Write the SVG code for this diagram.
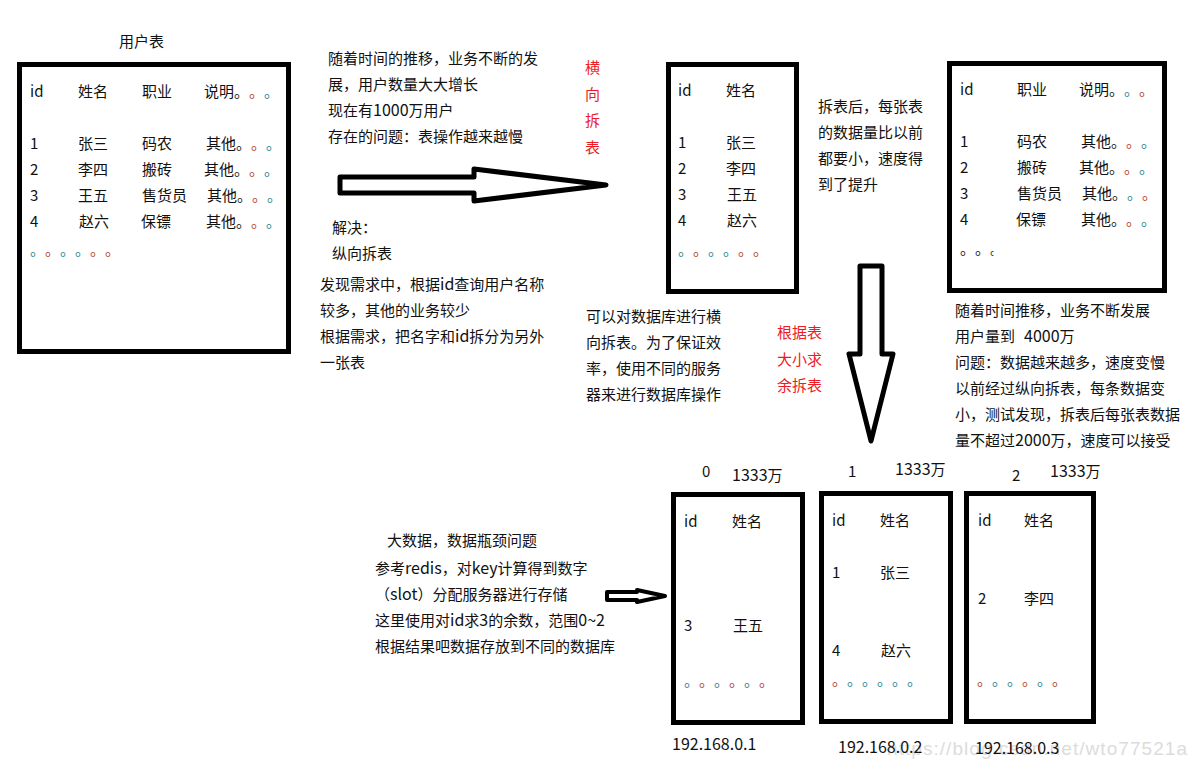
<svg xmlns="http://www.w3.org/2000/svg" width="1196" height="769" viewBox="0 0 1196 769">
<style>
text{font-family:"Noto Sans CJK SC","Noto Sans",sans-serif;font-size:15px;fill:#111;text-spacing-trim:space-all;font-feature-settings:"palt" 0}
.r{fill:#ed1c24}
.n{font-size:16px}
.t{fill:#1f7f8f}
.o{fill:#b33a2a}
.box{fill:#fff;stroke:#000;stroke-width:5}
.arrow{fill:#fff;stroke:#000;stroke-width:5;stroke-linejoin:round}
.wm{fill:#dcdcdc;font-size:19px;font-family:"Liberation Sans",sans-serif}
</style>
<defs><clipPath id="cut"><rect x="960" y="240" width="33.5" height="20"/></clipPath></defs>
<rect width="1196" height="769" fill="#fff"/>
<g id="connectors">
<polygon class="arrow" points="340,177 474,177 474,169 606,185 474,201 474,193 340,193"/>
<polygon class="arrow" points="860,266 882,266 882,354 893,354 871,441 849,354 860,354"/>
<polygon class="arrow" style="stroke-width:4" points="607,592 637,592 637,590 665,596 637,602 637,600 607,600"/>
</g>
<g id="title"><text x="119" y="47">用户表</text></g>
<g id="users-table">
<rect class="box" x="19.5" y="64.5" width="269" height="287"/>
<text x="30" y="97">id</text><text x="78" y="97">姓名</text><text x="142" y="97">职业</text><text x="204" y="97">说明。<tspan class="o">。</tspan><tspan class="t">。</tspan></text>
<text x="30" y="149">1</text><text x="78" y="149">张三</text><text x="142" y="149">码农</text><text x="206" y="149">其他。<tspan class="o">。</tspan><tspan class="t">。</tspan></text>
<text x="30" y="175">2</text><text x="78" y="175">李四</text><text x="142" y="175">搬砖</text><text x="204" y="175">其他。<tspan class="o">。</tspan><tspan class="t">。</tspan></text>
<text x="30" y="201">3</text><text x="78" y="201">王五</text><text x="142" y="201">售货员</text><text x="207" y="201">其他。<tspan class="o">。</tspan><tspan class="t">。</tspan></text>
<text x="30" y="227">4</text><text x="79" y="227">赵六</text><text x="141" y="227">保镖</text><text x="206" y="227">其他。<tspan class="o">。</tspan><tspan class="t">。</tspan></text>
<text x="30" y="255"><tspan class="t">。</tspan><tspan class="o">。</tspan><tspan class="t">。。</tspan><tspan class="o">。。</tspan></text>
</g>
<g id="note-growth">
<text x="328" y="64">随着时间的推移，业务不断的发</text>
<text x="328" y="90">展，用户数量大大增长</text>
<text x="328" y="116">现在有<tspan class="n">1000</tspan>万用户</text>
<text x="328" y="142">存在的问题：表操作越来越慢</text>
</g>
<g id="note-solution">
<text x="332" y="233">解决：</text>
<text x="332" y="259">纵向拆表</text>
<text x="320" y="290">发现需求中，根据<tspan class="n">id</tspan>查询用户名称</text>
<text x="320" y="316">较多，其他的业务较少</text>
<text x="320" y="342">根据需求，把名字和<tspan class="n">id</tspan>拆分为另外</text>
<text x="320" y="368">一张表</text>
</g>
<g id="label-horizontal">
<text class="r" x="585" y="73">横</text><text class="r" x="585" y="100">向</text><text class="r" x="585" y="126">拆</text><text class="r" x="585" y="153">表</text>
</g>
<g id="name-table">
<rect class="box" x="668.5" y="64.5" width="128" height="227"/>
<text x="678" y="96">id</text><text x="726" y="96">姓名</text>
<text x="678" y="148">1</text><text x="726" y="148">张三</text>
<text x="678" y="174">2</text><text x="726" y="174">李四</text>
<text x="678" y="200">3</text><text x="727" y="200">王五</text>
<text x="678" y="226">4</text><text x="727" y="226">赵六</text>
<text x="678" y="255"><tspan class="t">。</tspan><tspan class="o">。</tspan><tspan class="t">。。</tspan><tspan class="o">。。</tspan></text>
</g>
<g id="note-after-split">
<text x="818" y="112">拆表后，每张表</text>
<text x="818" y="138">的数据量比以前</text>
<text x="818" y="164">都要小，速度得</text>
<text x="818" y="190">到了提升</text>
</g>
<g id="job-table">
<rect class="box" x="949.5" y="63.5" width="215" height="227"/>
<text x="960" y="95">id</text><text x="1017" y="95">职业</text><text x="1079" y="95">说明。<tspan class="t">。</tspan><tspan class="o">。</tspan></text>
<text x="960" y="147">1</text><text x="1017" y="147">码农</text><text x="1081" y="147">其他。<tspan class="o">。</tspan><tspan class="t">。</tspan></text>
<text x="960" y="173">2</text><text x="1017" y="173">搬砖</text><text x="1079" y="173">其他。<tspan class="o">。</tspan><tspan class="t">。</tspan></text>
<text x="960" y="199">3</text><text x="1017" y="199">售货员</text><text x="1082" y="199">其他。<tspan class="t">。</tspan><tspan class="o">。</tspan></text>
<text x="960" y="225">4</text><text x="1016" y="225">保镖</text><text x="1081" y="225">其他。<tspan class="o">。</tspan><tspan class="t">。</tspan></text>
<text x="960" y="254" clip-path="url(#cut)">。。。</text>
</g>
<g id="note-horizontal">
<text x="586" y="322">可以对数据库进行横</text>
<text x="586" y="348">向拆表。为了保证效</text>
<text x="586" y="374">率，使用不同的服务</text>
<text x="586" y="400">器来进行数据库操作</text>
</g>
<g id="label-mod">
<text class="r" x="777" y="338">根据表</text>
<text class="r" x="777" y="365">大小求</text>
<text class="r" x="777" y="391">余拆表</text>
</g>
<g id="note-growth-2">
<text x="955" y="316">随着时间推移，业务不断发展</text>
<text x="955" y="342">用户量到<tspan class="n" x="1024">4000</tspan>万</text>
<text x="955" y="368">问题：数据越来越多，速度变慢</text>
<text x="955" y="394">以前经过纵向拆表，每条数据变</text>
<text x="955" y="420">小，测试发现，拆表后每张表数据</text>
<text x="955" y="446">量不超过<tspan class="n">2000</tspan>万，速度可以接受</text>
</g>
<g id="note-bigdata">
<text x="387" y="546">大数据，数据瓶颈问题</text>
<text x="375" y="574">参考<tspan class="n">redis</tspan>，对<tspan class="n">key</tspan>计算得到数字</text>
<text x="375" y="600">（<tspan class="n">slot</tspan>）分配服务器进行存储</text>
<text x="375" y="626">这里使用对<tspan class="n">id</tspan>求<tspan class="n">3</tspan>的余数，范围<tspan class="n">0~2</tspan></text>
<text x="375" y="652">根据结果吧数据存放到不同的数据库</text>
</g>
<text class="wm" x="887" y="755" textLength="300">https://blog.csdn.net/wto77521a</text>
<g id="shard-0">
<text x="702" y="477">0</text><text x="732" y="481"><tspan class="n">1333</tspan>万</text>
<rect class="box" x="673.5" y="494.5" width="129" height="228"/>
<text x="684" y="527">id</text><text x="732" y="527">姓名</text>
<text x="684" y="631">3</text><text x="733" y="631">王五</text>
<text x="684" y="686"><tspan class="t">。</tspan><tspan class="o">。</tspan><tspan class="t">。</tspan><tspan class="o">。</tspan><tspan class="t">。</tspan><tspan class="o">。</tspan></text>
<text class="n" x="672" y="750">192.168.0.1</text>
</g>
<g id="shard-1">
<text x="848" y="477">1</text><text x="895" y="475"><tspan class="n">1333</tspan>万</text>
<rect class="box" x="821.5" y="493.5" width="129" height="228"/>
<text x="832" y="526">id</text><text x="880" y="526">姓名</text>
<text x="832" y="578">1</text><text x="880" y="578">张三</text>
<text x="832" y="656">4</text><text x="881" y="656">赵六</text>
<text x="832" y="685"><tspan class="o">。</tspan><tspan class="t">。。。。。</tspan></text>
<text class="n" x="838" y="753">192.168.0.2</text>
</g>
<g id="shard-2">
<text x="1012" y="481">2</text><text x="1050" y="477"><tspan class="n">1333</tspan>万</text>
<rect class="box" x="966.5" y="493.5" width="127" height="228"/>
<text x="978" y="526">id</text><text x="1024" y="526">姓名</text>
<text x="978" y="604">2</text><text x="1024" y="604">李四</text>
<text x="977" y="685"><tspan class="o">。</tspan><tspan class="t">。。</tspan><tspan class="o">。</tspan><tspan class="t">。</tspan><tspan class="o">。</tspan></text>
<text class="n" x="975" y="754">192.168.0.3</text>
</g>
</svg>
